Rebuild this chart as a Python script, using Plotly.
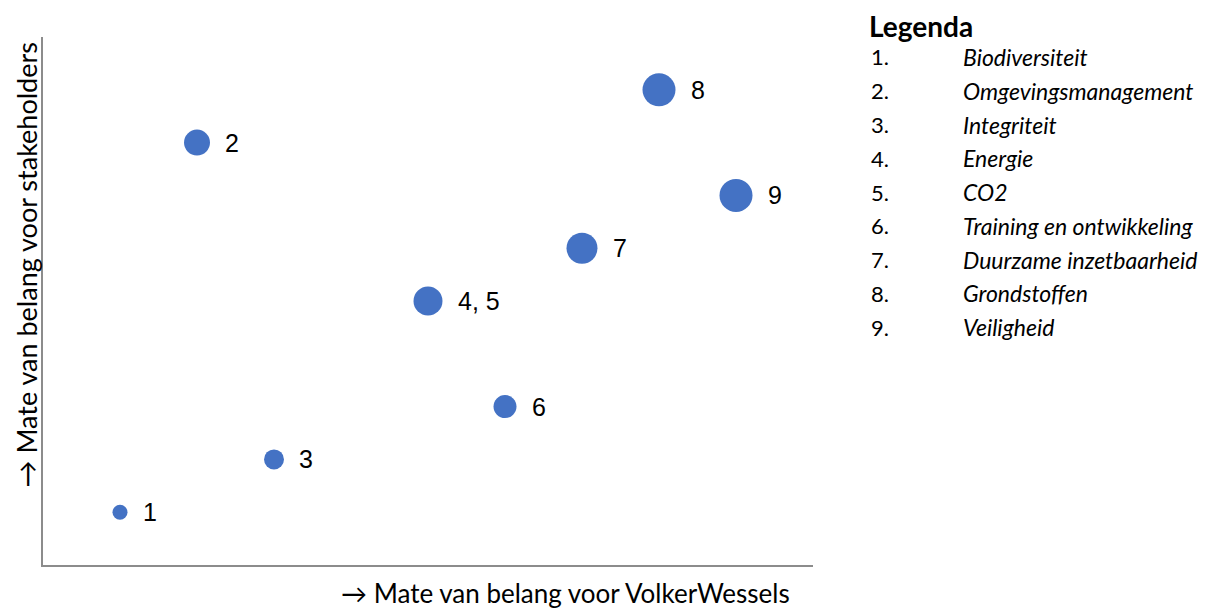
import plotly.graph_objects as go

# Data
labels = ["1", "2", "3", "4, 5", "6", "7", "8", "9"]
x_vals = [1, 2, 3, 5, 6, 7, 8, 9]
y_vals = [1, 8, 2, 5, 3, 6, 9, 7]
bubble_sizes = [15, 26, 20, 29, 23, 31, 33, 33]

legend_title = "Legenda"
legend_nums = ["1.", "2.", "3.", "4.", "5.", "6.", "7.", "8.", "9."]
legend_items = ["Biodiversiteit", "Omgevingsmanagement", "Integriteit", "Energie", "CO2",
                "Training en ontwikkeling", "Duurzame inzetbaarheid", "Grondstoffen", "Veiligheid"]

x_title = "→ Mate van belang voor VolkerWessels"
y_title = "→ Mate van belang voor stakeholders"

OFF = 8  # page body margin
W, H = 1206 - OFF, 610 - OFF
# plot area in reference page pixels
PL, PR, PT, PB = 43, 813, 37, 565
L, T = PL - OFF, PT - OFF
R = W - (PR - OFF)
B = H - (PB - OFF)
pw = PR - PL
ph = PB - PT

def px(xp):
    return (xp - PL) / pw

def py(yp):
    return (PB - yp) / ph

fig = go.Figure()
fig.add_trace(go.Scatter(
    x=x_vals, y=y_vals, mode="markers",
    marker=dict(size=bubble_sizes, color="#4472C4", line=dict(width=0), opacity=1),
    hoverinfo="skip", showlegend=False,
))

annotations = []
for xv, yv, lab, s in zip(x_vals, y_vals, labels, bubble_sizes):
    annotations.append(dict(
        x=xv, y=yv, xref="x", yref="y", text=lab, showarrow=False,
        xanchor="left", yanchor="middle", xshift=s / 2 + 13, yshift=0,
        font=dict(family="Liberation Sans, Arial", size=25, color="#000000"),
    ))

# axis titles
annotations.append(dict(
    x=px(565), y=py(610), xref="paper", yref="paper", text=x_title, showarrow=False,
    xanchor="center", yanchor="bottom", borderpad=0,
    font=dict(family="Lato", size=26, color="#000000"),
))
annotations.append(dict(
    x=px(8), y=py(265), xref="paper", yref="paper", text=y_title, showarrow=False,
    xanchor="left", yanchor="middle", textangle=-90, borderpad=0,
    font=dict(family="Lato", size=27, color="#000000"),
))

# legend block
annotations.append(dict(
    x=px(868), y=py(8), xref="paper", yref="paper", text="<b>" + legend_title + "</b>",
    showarrow=False, xanchor="left", yanchor="top", borderpad=0,
    font=dict(family="Lato", size=28, color="#000000"),
))
y0 = 57
step = 33.75
for i, (n, t) in enumerate(zip(legend_nums, legend_items)):
    yy = y0 + i * step
    annotations.append(dict(
        x=px(869), y=py(yy), xref="paper", yref="paper", text=n, showarrow=False,
        xanchor="left", yanchor="middle",
        font=dict(family="Lato", size=22, color="#000000"),
    ))
    annotations.append(dict(
        x=px(961), y=py(yy), xref="paper", yref="paper", text="<i>" + t + "</i>", showarrow=False,
        xanchor="left", yanchor="middle",
        font=dict(family="Lato", size=23, color="#000000"),
    ))

fig.update_layout(
    width=W, height=H,
    margin=dict(l=L, r=R, t=T, b=B),
    paper_bgcolor="white", plot_bgcolor="white",
    xaxis=dict(range=[0, 10], showgrid=False, zeroline=False, showticklabels=False,
               ticks="", showline=True, linecolor="#8c8c8c", linewidth=2),
    yaxis=dict(range=[0, 10], showgrid=False, zeroline=False, showticklabels=False,
               ticks="", showline=True, linecolor="#8c8c8c", linewidth=2),
    annotations=annotations,
)

fig.write_html("out.html")
